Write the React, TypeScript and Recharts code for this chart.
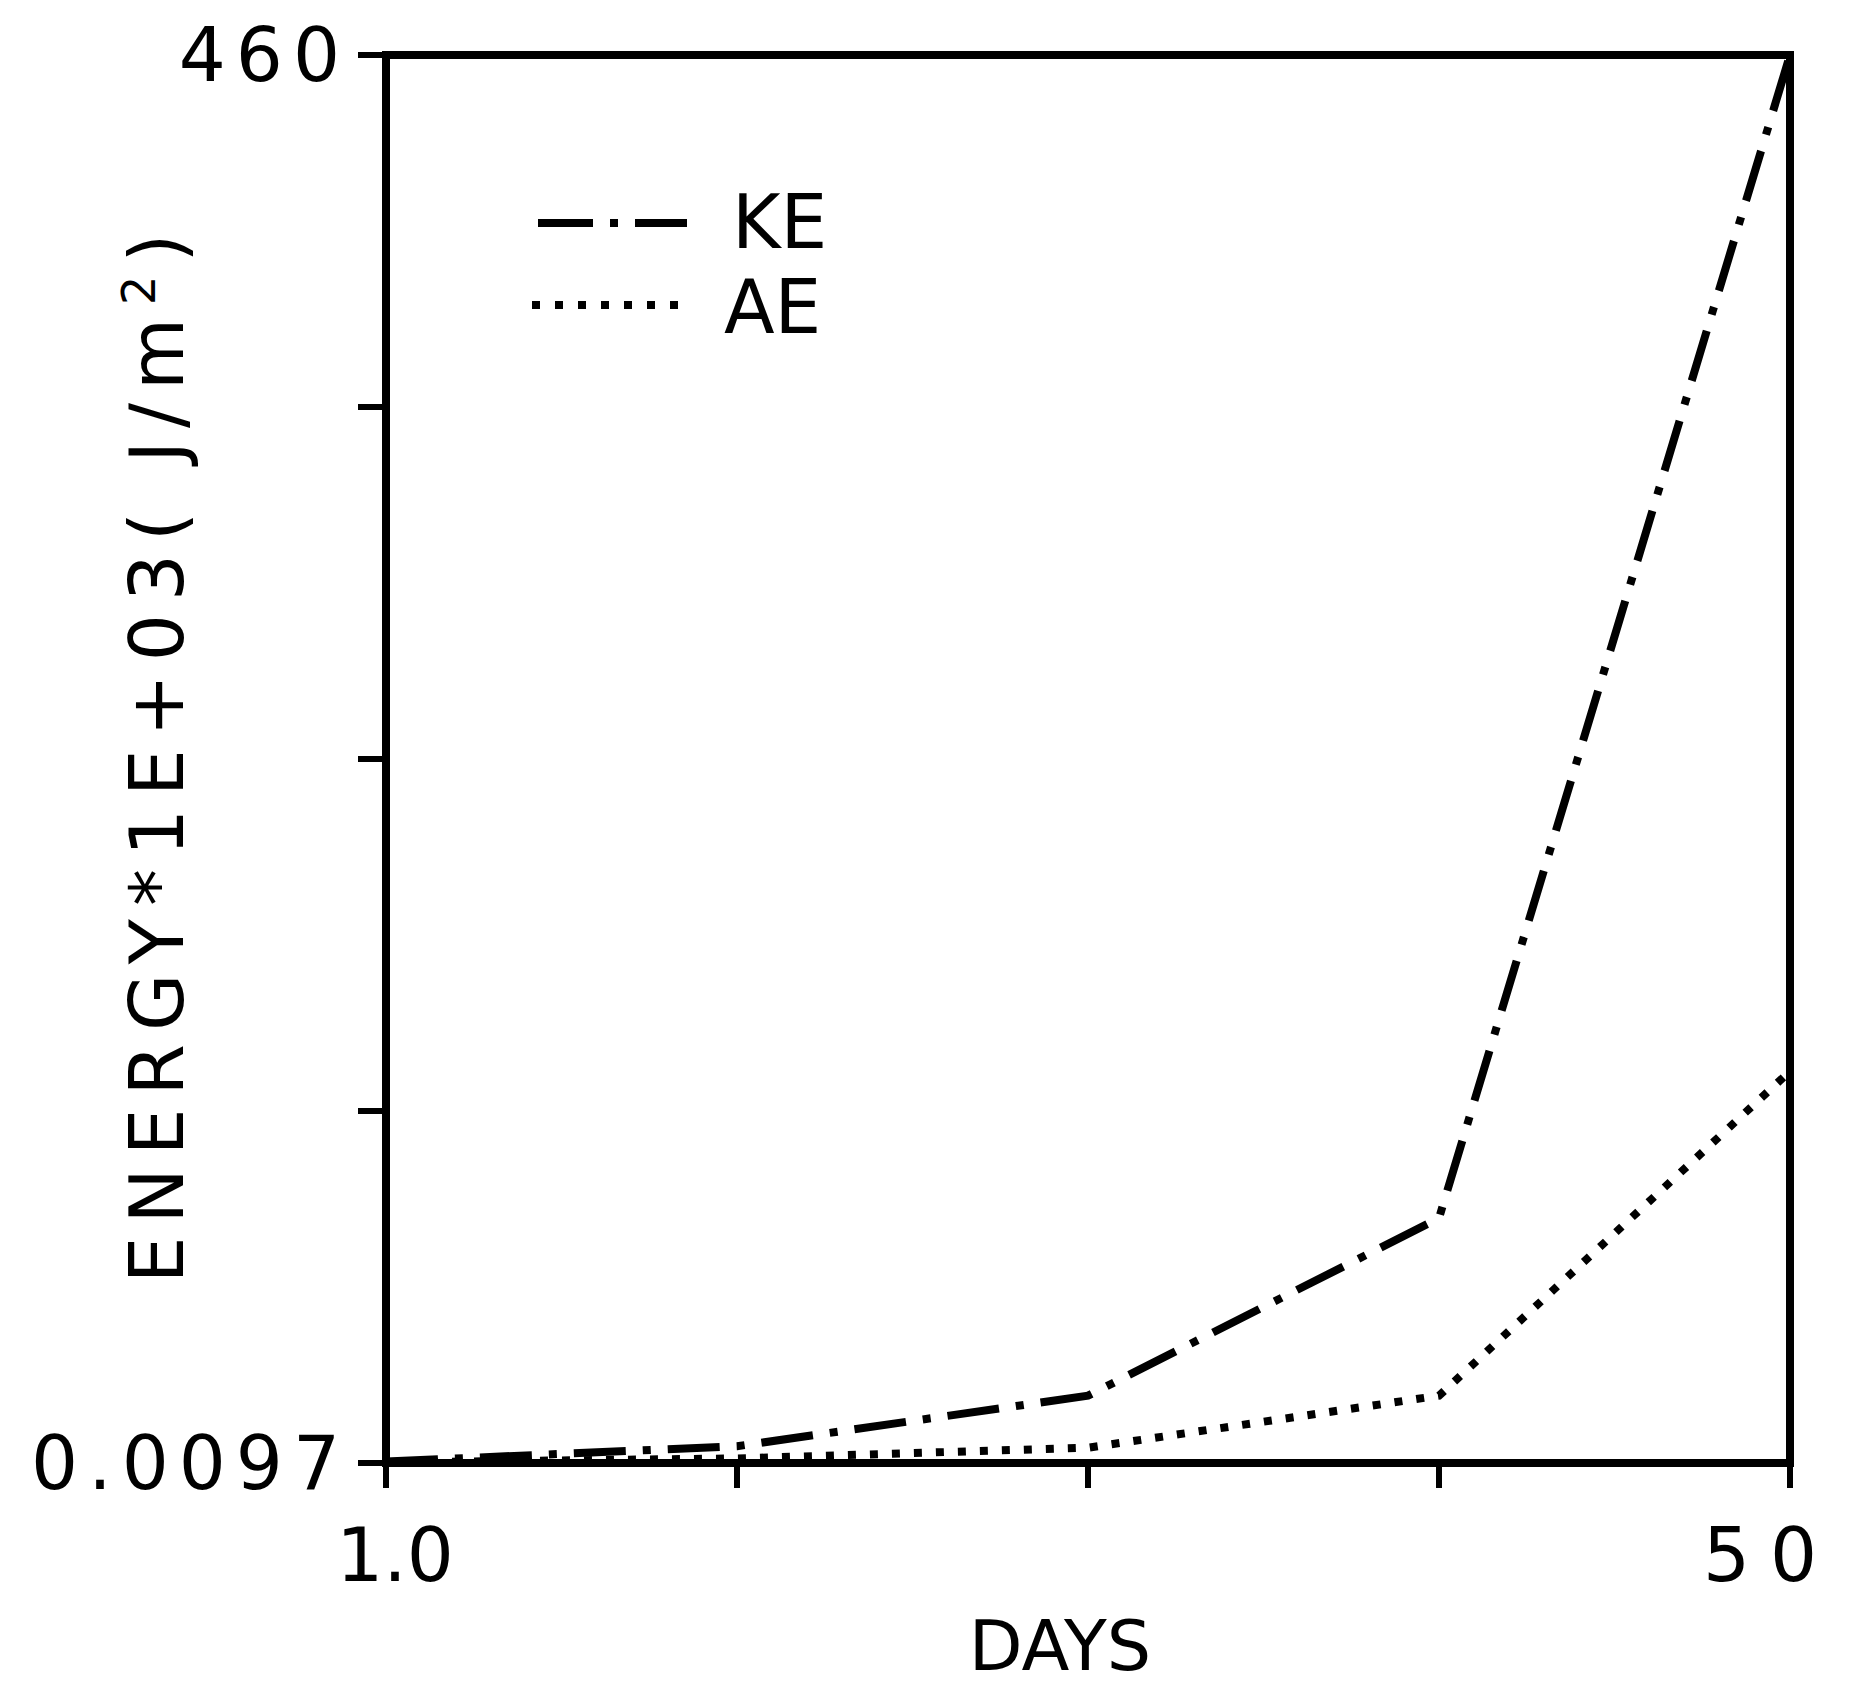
import React from 'react';
import { LineChart, Line, XAxis, YAxis, Legend, ReferenceLine } from 'recharts';

// ---- data ----
const DAYS = [1, 2, 3, 4, 5];
const KE = [0.5, 5.5, 22, 80, 460];
const AE = [0.2, 1.5, 5, 22, 128];
const X_TICKS = [1, 2, 3, 4, 5];
const X_TICK_LABELS = ['1.0', '', '', '', '50'];
const Y_TICKS = [0.0097, 115, 230, 345, 460];
const Y_TICK_LABELS = ['0.0097', '', '', '', '460'];
const SERIES_KEYS = ['KE', 'AE'];
const X_TITLE = 'DAYS';
const X_MAX = 5;
const Y_MAX = 460;

const data = DAYS.map((d, i) => ({ day: d, KE: KE[i], AE: AE[i] }));

const FONT = '"DejaVu Sans", "Liberation Sans", sans-serif';
const INK = '#000';
const DASHES: Record<string, string> = { KE: '52 17 8 17', AE: '8 14' };
const LEGEND_DASHES: Record<string, string> = { KE: '55 17 8 17', AE: '8 15' };

const XTick = (props: any) => {
  const { x, y, payload } = props;
  const idx = X_TICKS.indexOf(payload.value);
  const label = X_TICK_LABELS[idx];
  if (!label) return null;
  const last = idx === X_TICKS.length - 1;
  return (
    <text
      x={x}
      y={y}
      dx={last ? -20 : 9}
      dy="0.71em"
      textAnchor="middle"
      fontFamily={FONT}
      fontSize={74}
      fill={INK}
      style={{ letterSpacing: last ? '20px' : '0px' }}
    >
      {label}
    </text>
  );
};

const YTick = (props: any) => {
  const { x, y, payload } = props;
  const idx = Y_TICKS.indexOf(payload.value);
  const label = Y_TICK_LABELS[idx];
  if (!label) return null;
  return (
    <text
      x={x}
      y={y}
      dy="0.355em"
      textAnchor="end"
      fontFamily={FONT}
      fontSize={74}
      fill={INK}
      style={{ letterSpacing: '10px' }}
    >
      {label}
    </text>
  );
};

const YTitle = (props: any) => {
  const vb = props.viewBox || { x: 128, y: 47, width: 250, height: 1408 };
  const cx = vb.x + 47;
  const cy = vb.y + vb.height / 2 - 7;
  return (
    <text
      transform={`translate(${cx},${cy}) rotate(-90)`}
      textAnchor="middle"
      fontFamily={FONT}
      fontSize={74}
      fill={INK}
      style={{ letterSpacing: '13px' }}
    >
      ENERGY*1E+03( J/m
      <tspan dy={-28} fontSize={46}>2</tspan>
      <tspan dy={28}>)</tspan>
    </text>
  );
};

const XTitle = (props: any) => {
  const vb = props.viewBox || { x: 378, y: 1455, width: 1404, height: 130 };
  return (
    <text
      x={vb.x + vb.width / 2 - 28}
      y={vb.y + 207}
      textAnchor="middle"
      fontFamily={FONT}
      fontSize={70}
      fill={INK}
    >
      {X_TITLE}
    </text>
  );
};

const LegendContent = (props: any) => {
  const given = (props.payload || []) as any[];
  const entries = SERIES_KEYS.map((k) => {
    const p = given.find((g) => String(g.dataKey ?? g.value) === k);
    return { key: k, label: p ? p.value : k };
  });
  const rows = [
    { lineX1: 18, lineX2: 167, lineY: 45, textX: 212, textY: 70 },
    { lineX1: 12, lineX2: 168, lineY: 127, textX: 204, textY: 155 },
  ];
  return (
    <svg width={340} height={180} style={{ display: 'block' }}>
      {entries.map((e, i) => {
        const r = rows[i];
        return (
          <g key={e.key}>
            <line
              x1={r.lineX1}
              x2={r.lineX2}
              y1={r.lineY}
              y2={r.lineY}
              stroke={INK}
              strokeWidth={8}
              strokeDasharray={LEGEND_DASHES[e.key]}
            />
            <text x={r.textX} y={r.textY} fontFamily={FONT} fontSize={74} fill={INK}>
              {e.label}
            </text>
          </g>
        );
      })}
    </svg>
  );
};

export default function App() {
  const axisLine = { stroke: INK, strokeWidth: 8, strokeLinecap: 'square' as const };
  const tickLine = { stroke: INK, strokeWidth: 6 };
  return (
    <div style={{ width: 1839, height: 1682, fontFamily: FONT, background: '#fff' }}>
      <LineChart
        width={1839}
        height={1682}
        data={data}
        margin={{ top: 47, right: 57, bottom: 97, left: 128 }}
      >
        <XAxis
          dataKey="day"
          type="number"
          domain={[1, X_MAX]}
          ticks={X_TICKS}
          interval={0}
          height={130}
          axisLine={axisLine}
          tickLine={tickLine}
          tickSize={25}
          tickMargin={40}
          tick={<XTick />}
          label={<XTitle />}
        />
        <YAxis
          type="number"
          domain={[0.0097, Y_MAX]}
          ticks={Y_TICKS}
          interval={0}
          allowDataOverflow
          width={250}
          axisLine={axisLine}
          tickLine={tickLine}
          tickSize={28}
          tickMargin={8}
          tick={<YTick />}
          label={<YTitle />}
        />
        <ReferenceLine y={Y_MAX} stroke={INK} strokeWidth={8} strokeLinecap="square" ifOverflow="visible" />
        <ReferenceLine x={X_MAX} stroke={INK} strokeWidth={8} strokeLinecap="square" ifOverflow="visible" />
        <Legend
          layout="horizontal"
          verticalAlign="middle"
          align="center"
          wrapperStyle={{ position: 'absolute', left: 512, top: 170, width: 340, height: 180 }}
          content={<LegendContent />}
        />
        {SERIES_KEYS.map((k) => (
          <Line
            key={k}
            type="linear"
            dataKey={k}
            name={k}
            stroke={INK}
            strokeWidth={8}
            strokeDasharray={DASHES[k]}
            dot={false}
            activeDot={false}
            isAnimationActive={false}
            legendType="line"
          />
        ))}
      </LineChart>
    </div>
  );
}
